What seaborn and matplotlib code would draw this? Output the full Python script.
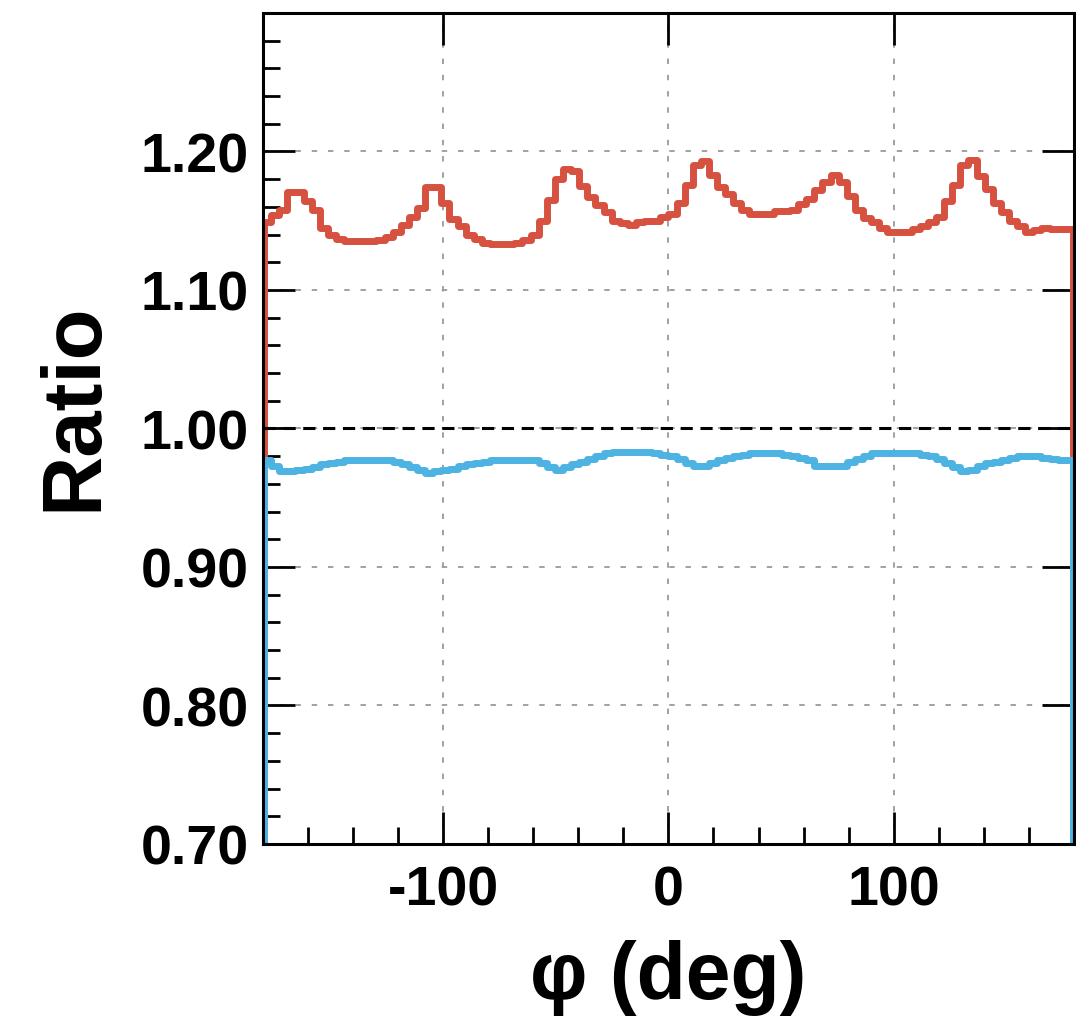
import numpy as np
import pandas as pd
import seaborn as sns
import matplotlib.pyplot as plt
from matplotlib.ticker import MultipleLocator, FormatStrFormatter, FixedLocator

# Binning: 100 bins in phi from -180 to 180 deg
bin_edges = np.linspace(-180, 180, 101)
bin_centers = 0.5 * (bin_edges[:-1] + bin_edges[1:])

# Red ratio (upper curve)
ratio_red = [
    1.149, 1.154, 1.158, 1.171, 1.171, 1.164, 1.158, 1.145, 1.140, 1.137,
    1.135, 1.135, 1.135, 1.135, 1.136, 1.138, 1.142, 1.147, 1.153, 1.159,
    1.174, 1.174, 1.163, 1.151, 1.146, 1.140, 1.137, 1.134, 1.133, 1.133,
    1.133, 1.134, 1.136, 1.140, 1.150, 1.165, 1.180, 1.187, 1.186, 1.175,
    1.167, 1.161, 1.156, 1.150, 1.148, 1.147, 1.149, 1.150, 1.150, 1.153,
    1.155, 1.163, 1.176, 1.190, 1.193, 1.183, 1.174, 1.169, 1.163, 1.158,
    1.155, 1.155, 1.155, 1.157, 1.157, 1.158, 1.162, 1.166, 1.172, 1.178,
    1.183, 1.178, 1.168, 1.158, 1.152, 1.149, 1.145, 1.142, 1.142, 1.142,
    1.144, 1.146, 1.149, 1.153, 1.164, 1.176, 1.190, 1.194, 1.182, 1.173,
    1.163, 1.156, 1.150, 1.146, 1.142, 1.143, 1.145, 1.144, 1.144, 1.144,
]

# Blue ratio (lower curve)
ratio_blue = [
    0.977, 0.973, 0.969, 0.969, 0.970, 0.971, 0.972, 0.974, 0.975, 0.976,
    0.977, 0.977, 0.977, 0.977, 0.977, 0.977, 0.976, 0.974, 0.972, 0.970,
    0.968, 0.969, 0.970, 0.971, 0.973, 0.974, 0.975, 0.976, 0.977, 0.977,
    0.977, 0.977, 0.977, 0.977, 0.975, 0.972, 0.970, 0.972, 0.974, 0.976,
    0.978, 0.980, 0.982, 0.983, 0.983, 0.983, 0.983, 0.983, 0.982, 0.981,
    0.980, 0.978, 0.975, 0.973, 0.973, 0.975, 0.977, 0.979, 0.980, 0.981,
    0.982, 0.982, 0.982, 0.982, 0.981, 0.980, 0.979, 0.977, 0.973, 0.973,
    0.973, 0.973, 0.976, 0.978, 0.980, 0.982, 0.982, 0.982, 0.982, 0.982,
    0.982, 0.981, 0.980, 0.978, 0.975, 0.972, 0.969, 0.970, 0.973, 0.975,
    0.976, 0.977, 0.979, 0.980, 0.980, 0.980, 0.979, 0.978, 0.977, 0.977,
]

y_major = [0.70, 0.80, 0.90, 1.00, 1.10, 1.20]

df = pd.DataFrame({'phi': bin_centers, 'red': ratio_red, 'blue': ratio_blue})

red_color = '#d6513f'
blue_color = '#4db3e3'

sns.set_style('ticks')
plt.rcParams['font.family'] = ['Liberation Sans', 'DejaVu Sans']
plt.rcParams['font.weight'] = 'bold'
plt.rcParams['axes.unicode_minus'] = False
plt.rcParams['text.color'] = 'black'
plt.rcParams['axes.labelcolor'] = 'black'
plt.rcParams['xtick.color'] = 'black'
plt.rcParams['ytick.color'] = 'black'

fig = plt.figure(figsize=(10.76, 10.20), dpi=100)
ax = fig.add_axes([0.2444, 0.1716, 0.7536, 0.8147])

ymin, ymax = 0.70, 1.30
edges = list(bin_edges)
lw_hist = 5.0

# Histograms drawn as steps
sns.histplot(data=df, x='phi', weights='red', bins=edges, element='step',
             fill=False, color=red_color, linewidth=lw_hist, ax=ax, zorder=3)
ax.vlines([bin_edges[0] + 0.6, bin_edges[-1] - 0.5], ymin, [ratio_red[0], ratio_red[-1]],
          color=red_color, lw=lw_hist, zorder=3)

sns.histplot(data=df, x='phi', weights='blue', bins=edges, element='step',
             fill=False, color=blue_color, linewidth=lw_hist, ax=ax, zorder=4)
ax.vlines([bin_edges[0] + 0.6, bin_edges[-1] - 0.5], ymin, [ratio_blue[0], ratio_blue[-1]],
          color=blue_color, lw=lw_hist, zorder=4)

# Reference line at 1
ax.axhline(1.0, color='black', lw=2.2, ls=(0, (4, 2.5)), zorder=5)

ax.set_xlim(-180, 180)
ax.set_ylim(ymin, ymax)

ax.xaxis.set_major_locator(MultipleLocator(100))
ax.xaxis.set_minor_locator(MultipleLocator(20))
ax.yaxis.set_major_locator(FixedLocator(y_major))
ax.yaxis.set_minor_locator(MultipleLocator(0.02))
ax.yaxis.set_major_formatter(FormatStrFormatter('%.2f'))

ax.grid(True, which='major', color='#9a9a9a', ls=(0, (3, 6)), lw=1.3, zorder=1)

ax.tick_params(axis='both', which='major', direction='in', length=23, width=2,
               labelsize=40, top=True, right=True, colors='black')
ax.tick_params(axis='x', which='major', pad=15)
ax.tick_params(axis='y', which='major', pad=10)
ax.tick_params(axis='both', which='minor', direction='in', length=12, width=2,
               top=False, right=False)
for t in ax.get_xticklabels() + ax.get_yticklabels():
    t.set_fontweight('bold')

for s in ax.spines.values():
    s.set_linewidth(2.2)
    s.set_color('black')
    s.set_zorder(6)

ax.set_xlabel('φ (deg)', fontsize=58, fontweight='bold', labelpad=16)
ax.set_ylabel('Ratio', fontsize=60, fontweight='bold')
ax.yaxis.set_label_coords(-0.184, 0.527)

plt.savefig('out.png', dpi=100)
plt.close()
